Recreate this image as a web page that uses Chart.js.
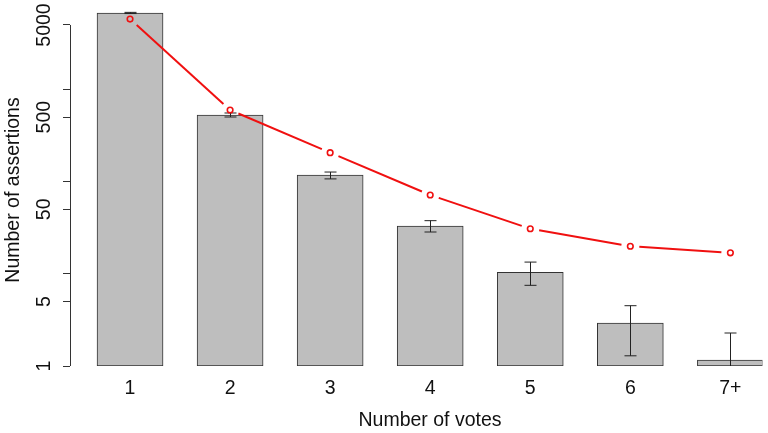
<!DOCTYPE html>
<html>
<head>
<meta charset="utf-8">
<script src="https://cdn.jsdelivr.net/npm/chart.js@4/dist/chart.umd.min.js"></script>
<style>
    html, body { margin: 0; padding: 0; background: #fff; }
    canvas { display: block; }
</style>
</head>
<body>
<canvas id="graphiqueVotes" width="768" height="433"></canvas>
<script>
const categories   = ['1', '2', '3', '4', '5', '6', '7+'];
const assertions   = [6740, 528, 118, 33, 10.4, 2.93, 1.16];
const erreurBasse  = [6650, 502, 107, 28.4, 7.5, 1.29, 1];
const erreurHaute  = [6850, 555, 127, 37.7, 13.4, 4.51, 2.28];
const attendus     = [5800, 598, 206, 71.6, 30.8, 19.9, 16.9];
const ticksY       = [1, 5, 10, 50, 100, 500, 1000, 5000];
const etiquettesY  = [1, 5, 50, 500, 5000];

const POLICE = '19.5px "Liberation Sans", Arial, sans-serif';

function texte(ctx, txt, x, y, vertical) {
    ctx.save();
    ctx.translate(x, y);
    if (vertical) ctx.rotate(-Math.PI / 2);
    ctx.fillText(txt, 0, 0);
    ctx.restore();
}

// ── Barres d'erreur, ligne « type b » et textes des axes ────────────────────

const pluginR = {
    id: 'pluginR',
    afterDatasetDraw(chart, args) {
        if (args.index !== 0) return;
        const { ctx, scales: { x, y } } = chart;
        ctx.save();
        ctx.strokeStyle = '#222';
        ctx.lineWidth = 1;
        categories.forEach((c, i) => {
            const px = Math.round(x.getPixelForValue(i + 1)) + 0.5;
            const haut = y.getPixelForValue(erreurHaute[i]);
            const bas  = y.getPixelForValue(Math.max(erreurBasse[i], 1));
            ctx.beginPath();
            ctx.moveTo(px, haut); ctx.lineTo(px, bas);
            ctx.moveTo(px - 6, haut); ctx.lineTo(px + 6, haut);
            if (erreurBasse[i] > 1) { ctx.moveTo(px - 6, bas); ctx.lineTo(px + 6, bas); }
            ctx.stroke();
        });
        ctx.restore();
    },
    afterDatasetsDraw(chart) {
        const { ctx, chartArea, scales: { x, y } } = chart;
        const points = chart.getDatasetMeta(1).data;
        const ecart = 9;

        // segments interrompus autour des points, comme R type = "b"
        ctx.save();
        ctx.strokeStyle = '#f01010';
        ctx.lineWidth = 2;
        for (let i = 0; i < points.length - 1; i++) {
            const a = points[i], b = points[i + 1];
            const dx = b.x - a.x, dy = b.y - a.y;
            const l = Math.hypot(dx, dy);
            if (l <= 2 * ecart) continue;
            const ux = dx / l, uy = dy / l;
            ctx.beginPath();
            ctx.moveTo(a.x + ux * ecart, a.y + uy * ecart);
            ctx.lineTo(b.x - ux * ecart, b.y - uy * ecart);
            ctx.stroke();
        }
        ctx.restore();

        // axe vertical de 1 à 5000
        ctx.save();
        ctx.strokeStyle = '#333';
        ctx.lineWidth = 1;
        const ax = Math.round(chartArea.left) + 0.5;
        ctx.beginPath();
        ctx.moveTo(ax, y.getPixelForValue(ticksY[0]));
        ctx.lineTo(ax, y.getPixelForValue(ticksY[ticksY.length - 1]));
        ctx.stroke();

        ctx.fillStyle = '#111';
        ctx.font = POLICE;
        ctx.textAlign = 'center';
        ctx.textBaseline = 'middle';
        etiquettesY.forEach(v => texte(ctx, String(v), 45, y.getPixelForValue(v), true));
        categories.forEach((c, i) => texte(ctx, c, x.getPixelForValue(i + 1), 389, false));
        texte(ctx, 'Number of votes', 430, 421, false);
        texte(ctx, 'Number of assertions', 14, 190, true);
        ctx.restore();
    }
};

function creerGraphiqueVotes() {
    const ctx = document.getElementById('graphiqueVotes');
    if (!ctx) return;

    new Chart(ctx, {
        type: 'bar',
        data: {
            datasets: [
                {
                    type: 'bar',
                    label: 'Assertions',
                    data: assertions.map((v, i) => ({ x: i + 1, y: v })),
                    backgroundColor: '#bebebe',
                    borderColor: '#333',
                    borderWidth: 1,
                    borderSkipped: false,
                    barThickness: 66,
                    order: 2,
                },
                {
                    type: 'line',
                    label: 'Attendus',
                    data: attendus.map((v, i) => ({ x: i + 1, y: v })),
                    showLine: false,
                    pointRadius: 2.8,
                    pointBorderWidth: 1.6,
                    pointBorderColor: '#f01010',
                    pointBackgroundColor: 'rgba(0,0,0,0)',
                    order: 1,
                },
            ]
        },
        options: {
            responsive: false,
            animation: false,
            layout: { padding: { top: 8, right: 0, bottom: 67, left: 0 } },
            plugins: { legend: { display: false }, tooltip: { enabled: false } },
            scales: {
                x: { type: 'linear', min: 0.4, max: 7.32, offset: false, display: false },
                y: {
                    type: 'logarithmic',
                    min: 1,
                    max: 7640,
                    bounds: 'data',
                    afterBuildTicks: s => { s.ticks = ticksY.map(v => ({ value: v })); },
                    afterFit: s => { s.width = 70; },
                    ticks: { display: false },
                    border: { display: false },
                    grid: { drawOnChartArea: false, drawTicks: true, tickLength: 7, color: '#333' },
                },
            }
        },
        plugins: [pluginR]
    });
}

document.addEventListener('DOMContentLoaded', creerGraphiqueVotes);
</script>
</body>
</html>
